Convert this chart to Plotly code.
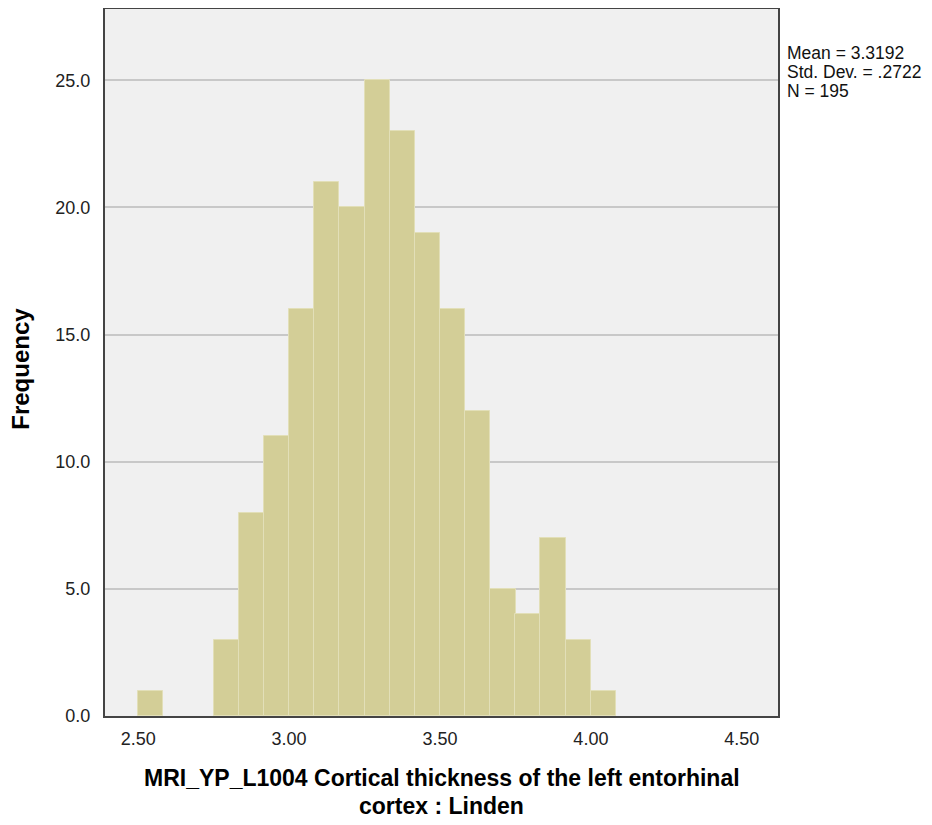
import plotly.graph_objs as go

# histogram bins (lower edge, width 1/12) and counts
bin_lower = [2.500, 2.583, 2.667, 2.750, 2.833, 2.917, 3.000, 3.083, 3.167, 3.250,
             3.333, 3.417, 3.500, 3.583, 3.667, 3.750, 3.833, 3.917, 4.000]
bin_width = 1 / 12
counts = [1, 0, 0, 3, 8, 11, 16, 21, 20, 25, 23, 19, 16, 12, 5, 4, 7, 3, 1]

x_ticks = [2.5, 3.0, 3.5, 4.0, 4.5]
y_ticks = [0, 5, 10, 15, 20, 25]

stats_lines = ["Mean = 3.3192", "Std. Dev. = .2722", "N = 195"]
x_title_lines = ["MRI_YP_L1004 Cortical thickness of the left entorhinal", "cortex : Linden"]
y_title = "Frequency"

FONT = "Liberation Sans, Arial, sans-serif"

# empty bins get no outline
line_widths = [1 if c > 0 else 0 for c in counts]

data = [go.Bar(x=bin_lower, y=counts, width=[bin_width] * len(counts), offset=0,
               marker=dict(color="#D3CE97", line=dict(color="#E2DFB8", width=line_widths)),
               showlegend=False, hoverinfo="x+y")]

annotations = []
# stats box at the right
for i, txt in enumerate(stats_lines):
    annotations.append(dict(text=txt, xref="paper", yref="paper", x=1.010,
                            y=0.9378 - i * 0.0269, xanchor="left", yanchor="middle",
                            showarrow=False, font=dict(size=17.5, color="#111")))
# x title, two lines
for i, txt in enumerate(x_title_lines):
    annotations.append(dict(text="<b>%s</b>" % txt, xref="paper", yref="paper", x=0.5,
                            y=-0.088 - i * 0.0396, xanchor="center", yanchor="middle",
                            showarrow=False, font=dict(size=23, color="black")))
# y title
annotations.append(dict(text="<b>%s</b>" % y_title, xref="paper", yref="paper", x=-0.125,
                        y=0.491, xanchor="center", yanchor="middle", textangle=-90,
                        showarrow=False, font=dict(size=24, color="black")))

# page body adds ~7px offset, so the figure is shrunk by that much
layout = go.Layout(
    width=925, height=818,
    margin=dict(l=97, r=155, t=1, b=110),
    paper_bgcolor="white", plot_bgcolor="#F0F0F0",
    font=dict(family=FONT, size=18, color="#222"),
    bargap=0,
    xaxis=dict(range=[2.39, 4.62], tickvals=x_ticks, tickformat=".2f",
               showgrid=False, zeroline=False, ticks="", automargin=False,
               ticklabelstandoff=5, tickfont=dict(size=18),
               showline=True, mirror=True, linecolor="#444", linewidth=2),
    yaxis=dict(range=[0, 27.8], tickvals=y_ticks, tickformat=".1f",
               showgrid=True, gridcolor="#C8C8C8", gridwidth=1.5, zeroline=False,
               ticks="", automargin=False, ticklabelstandoff=9, tickfont=dict(size=18),
               showline=True, mirror=True, linecolor="#444", linewidth=2),
    annotations=annotations,
)

fig = go.Figure(data=data, layout=layout)
fig.write_html("out.html")
